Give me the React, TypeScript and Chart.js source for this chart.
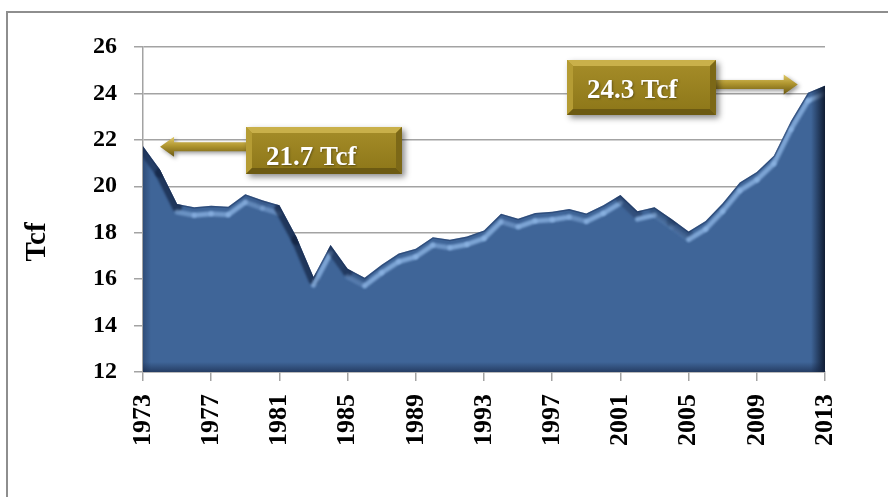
import React, { useEffect, useRef } from "react";
import { Chart, registerables } from "chart.js";

Chart.register(...registerables);

// ---- data ----
const years = [
  1973, 1974, 1975, 1976, 1977, 1978, 1979, 1980, 1981, 1982, 1983, 1984, 1985, 1986,
  1987, 1988, 1989, 1990, 1991, 1992, 1993, 1994, 1995, 1996, 1997, 1998, 1999, 2000,
  2001, 2002, 2003, 2004, 2005, 2006, 2007, 2008, 2009, 2010, 2011, 2012, 2013,
];
const productionTcf = [
  21.73, 20.71, 19.24, 19.1, 19.16, 19.12, 19.66, 19.4, 19.18, 17.82, 16.09, 17.47, 16.45,
  16.06, 16.62, 17.1, 17.31, 17.81, 17.7, 17.84, 18.1, 18.82, 18.6, 18.85, 18.9, 19.02,
  18.83, 19.18, 19.62, 18.93, 19.1, 18.59, 18.05, 18.5, 19.27, 20.16, 20.62, 21.32, 22.8,
  24.03, 24.33,
];
const xTickYears = [1973, 1977, 1981, 1985, 1989, 1993, 1997, 2001, 2005, 2009, 2013];
const yAxisTitle = "Tcf";
const startLabel = "21.7 Tcf";
const endLabel = "24.3 Tcf";
const startLevel = 21.7;
const endLevel = 24.3;

const GRID = "#a3a3a3";
const AREA = "#3f6598";

function drawBox(ctx: CanvasRenderingContext2D, x: number, y: number, w: number, h: number, text: string) {
  ctx.save();
  ctx.shadowColor = "rgba(0,0,0,0.45)";
  ctx.shadowBlur = 6;
  ctx.shadowOffsetX = 3;
  ctx.shadowOffsetY = 3;
  const g = ctx.createLinearGradient(0, y, 0, y + h);
  g.addColorStop(0, "#a68d29");
  g.addColorStop(1, "#8c7618");
  ctx.fillStyle = g;
  ctx.fillRect(x, y, w, h);
  ctx.restore();
  const b = 6;
  const poly = (pts: number[][], c: string) => {
    ctx.beginPath();
    ctx.moveTo(pts[0][0], pts[0][1]);
    for (let i = 1; i < pts.length; i++) ctx.lineTo(pts[i][0], pts[i][1]);
    ctx.closePath();
    ctx.fillStyle = c;
    ctx.fill();
  };
  poly([[x, y], [x + w, y], [x + w - b, y + b], [x + b, y + b]], "#c9b04a");
  poly([[x, y], [x + b, y + b], [x + b, y + h - b], [x, y + h]], "#b59c34");
  poly([[x, y + h], [x + b, y + h - b], [x + w - b, y + h - b], [x + w, y + h]], "#6c5a12");
  poly([[x + w, y], [x + w, y + h], [x + w - b, y + h - b], [x + w - b, y + b]], "#7c6817");
  ctx.save();
  ctx.fillStyle = "#ffffff";
  ctx.shadowColor = "rgba(0,0,0,0.35)";
  ctx.shadowBlur = 2;
  ctx.shadowOffsetX = 1;
  ctx.shadowOffsetY = 1;
  ctx.font = 'bold 27px "Liberation Serif"';
  ctx.textAlign = "left";
  ctx.textBaseline = "alphabetic";
  ctx.fillText(text, x + 20, y + 38);
  ctx.restore();
}

function drawArrow(ctx: CanvasRenderingContext2D, fromX: number, tipX: number, cy: number) {
  const dir = tipX > fromX ? 1 : -1;
  const headLen = 14;
  const half = 4.5;
  const headHalf = 10;
  const baseX = tipX - dir * headLen;
  ctx.save();
  ctx.shadowColor = "rgba(0,0,0,0.4)";
  ctx.shadowBlur = 4;
  ctx.shadowOffsetX = 2;
  ctx.shadowOffsetY = 2;
  const g = ctx.createLinearGradient(0, cy - headHalf, 0, cy + headHalf);
  g.addColorStop(0, "#e0c968");
  g.addColorStop(0.45, "#b09630");
  g.addColorStop(1, "#6a5811");
  ctx.fillStyle = g;
  ctx.beginPath();
  ctx.moveTo(fromX, cy - half);
  ctx.lineTo(baseX, cy - half);
  ctx.lineTo(baseX, cy - headHalf);
  ctx.lineTo(tipX, cy);
  ctx.lineTo(baseX, cy + headHalf);
  ctx.lineTo(baseX, cy + half);
  ctx.lineTo(fromX, cy + half);
  ctx.closePath();
  ctx.fill();
  ctx.restore();
}

const decorPlugin = {
  id: "decor",
  beforeDraw(chart: any) {
    const ctx = chart.ctx as CanvasRenderingContext2D;
    ctx.save();
    ctx.strokeStyle = "#8e8e8e";
    ctx.lineWidth = 2;
    ctx.beginPath();
    ctx.moveTo(7, chart.height);
    ctx.lineTo(7, 12);
    ctx.lineTo(chart.width, 12);
    ctx.stroke();
    ctx.restore();
  },
  afterDatasetsDraw(chart: any) {
    const ctx = chart.ctx as CanvasRenderingContext2D;
    const { left, right, top, bottom } = chart.chartArea;
    const pts = chart.getDatasetMeta(0).data.map((p: any) => ({ x: p.x, y: p.y }));
    ctx.save();
    ctx.beginPath();
    ctx.moveTo(pts[0].x, bottom);
    pts.forEach((p: any) => ctx.lineTo(p.x, p.y));
    ctx.lineTo(pts[pts.length - 1].x, bottom);
    ctx.closePath();
    ctx.clip();
    // bevel per segment
    for (let i = 0; i < pts.length - 1; i++) {
      const a = pts[i];
      const b = pts[i + 1];
      const s = (b.y - a.y) / (b.x - a.x);
      const dark = Math.max(0, Math.min(0.65, (s - 0.2) * 0.45));
      const light = Math.max(0, Math.min(0.8, 0.7 - s * 0.7));
      ctx.lineCap = "round";
      if (dark > 0) {
        ctx.beginPath();
        ctx.moveTo(a.x, a.y + 3);
        ctx.lineTo(b.x, b.y + 3);
        ctx.strokeStyle = `rgba(15,30,60,${dark})`;
        ctx.lineWidth = 10;
        ctx.filter = "blur(1px)";
        ctx.stroke();
        ctx.filter = "none";
      }
      if (light > 0) {
        ctx.beginPath();
        ctx.moveTo(a.x, a.y + 8);
        ctx.lineTo(b.x, b.y + 8);
        ctx.strokeStyle = `rgba(140,180,228,${light})`;
        ctx.lineWidth = 5;
        ctx.filter = "blur(1px)";
        ctx.stroke();
        ctx.filter = "none";
      }
    }
    ctx.beginPath();
    pts.forEach((p: any, i: number) => (i ? ctx.lineTo(p.x, p.y) : ctx.moveTo(p.x, p.y)));
    ctx.strokeStyle = "rgba(25,45,85,0.4)";
    ctx.lineWidth = 3;
    ctx.stroke();
    const gr = ctx.createLinearGradient(right - 14, 0, right, 0);
    gr.addColorStop(0, "rgba(10,20,40,0)");
    gr.addColorStop(1, "rgba(10,20,40,0.9)");
    ctx.fillStyle = gr;
    ctx.fillRect(right - 14, top, 14, bottom - top);
    const gl = ctx.createLinearGradient(left, 0, left + 8, 0);
    gl.addColorStop(0, "rgba(20,35,65,0.35)");
    gl.addColorStop(1, "rgba(20,35,65,0)");
    ctx.fillStyle = gl;
    ctx.fillRect(left, top, 8, bottom - top);
    const gb = ctx.createLinearGradient(0, bottom - 10, 0, bottom);
    gb.addColorStop(0, "rgba(20,35,65,0)");
    gb.addColorStop(1, "rgba(20,35,65,0.6)");
    ctx.fillStyle = gb;
    ctx.fillRect(left, bottom - 10, right - left, 10);
    ctx.restore();
  },
  afterDraw(chart: any) {
    const ctx = chart.ctx as CanvasRenderingContext2D;
    const xs = chart.scales.x;
    const ys = chart.scales.y;
    // axis title
    ctx.save();
    ctx.translate(38, 242);
    ctx.rotate(-Math.PI / 2);
    ctx.font = 'bold 29px "Liberation Serif"';
    ctx.fillStyle = "#000";
    ctx.textAlign = "center";
    ctx.textBaseline = "middle";
    ctx.fillText(yAxisTitle, 0, 0);
    ctx.restore();
    // annotations
    const y1 = ys.getPixelForValue(startLevel);
    const y2 = ys.getPixelForValue(endLevel) - 2;
    drawArrow(ctx, 250, xs.getPixelForValue(1974), y1);
    drawBox(ctx, 246, 127, 156, 47, startLabel);
    drawArrow(ctx, 712, xs.getPixelForValue(2011.4), y2);
    drawBox(ctx, 567, 60, 149, 55, endLabel);
  },
};

export default function App() {
  const ref = useRef<HTMLCanvasElement>(null);
  useEffect(() => {
    if (!ref.current) return;
    const chart = new Chart(ref.current, {
      type: "line",
      data: {
        datasets: [
          {
            data: years.map((y, i) => ({ x: y, y: productionTcf[i] })),
            fill: "start",
            backgroundColor: AREA,
            borderWidth: 0,
            pointRadius: 0,
            tension: 0,
          },
        ],
      },
      options: {
        responsive: false,
        animation: false,
        devicePixelRatio: 1,
        layout: { padding: { left: 0, right: 63, top: 47, bottom: 0 } },
        plugins: { legend: { display: false }, tooltip: { enabled: false } },
        scales: {
          x: {
            type: "linear",
            min: 1973,
            max: 2013,
            afterBuildTicks: (s: any) => {
              s.ticks = xTickYears.map((v) => ({ value: v }));
            },
            afterFit: (s: any) => {
              s.height = 125;
            },
            grid: { drawOnChartArea: false, drawTicks: true, tickLength: 9, color: GRID, lineWidth: 1.5 },
            border: { display: true, color: GRID, width: 1.5 },
            ticks: {
              autoSkip: false,
              minRotation: 90,
              maxRotation: 90,
              padding: 13,
              color: "#000",
              font: { family: '"Liberation Serif"', size: 26, weight: "bold" },
              callback: (v: any) => String(v),
            },
          },
          y: {
            min: 12,
            max: 26,
            afterFit: (s: any) => {
              s.width = 143;
            },
            grid: { color: GRID, lineWidth: 1.5, tickLength: 9 },
            border: { display: true, color: GRID, width: 1.5 },
            ticks: {
              stepSize: 2,
              padding: 17,
              color: "#000",
              font: { family: '"Liberation Serif"', size: 24, weight: "bold" },
            },
          },
        },
      },
      plugins: [decorPlugin],
    } as any);
    return () => chart.destroy();
  }, []);
  return (
    <div style={{ position: "absolute", left: 0, top: 0, width: 888, height: 497, background: "#fff" }}>
      <canvas ref={ref} width={888} height={497} style={{ display: "block" }} />
    </div>
  );
}
